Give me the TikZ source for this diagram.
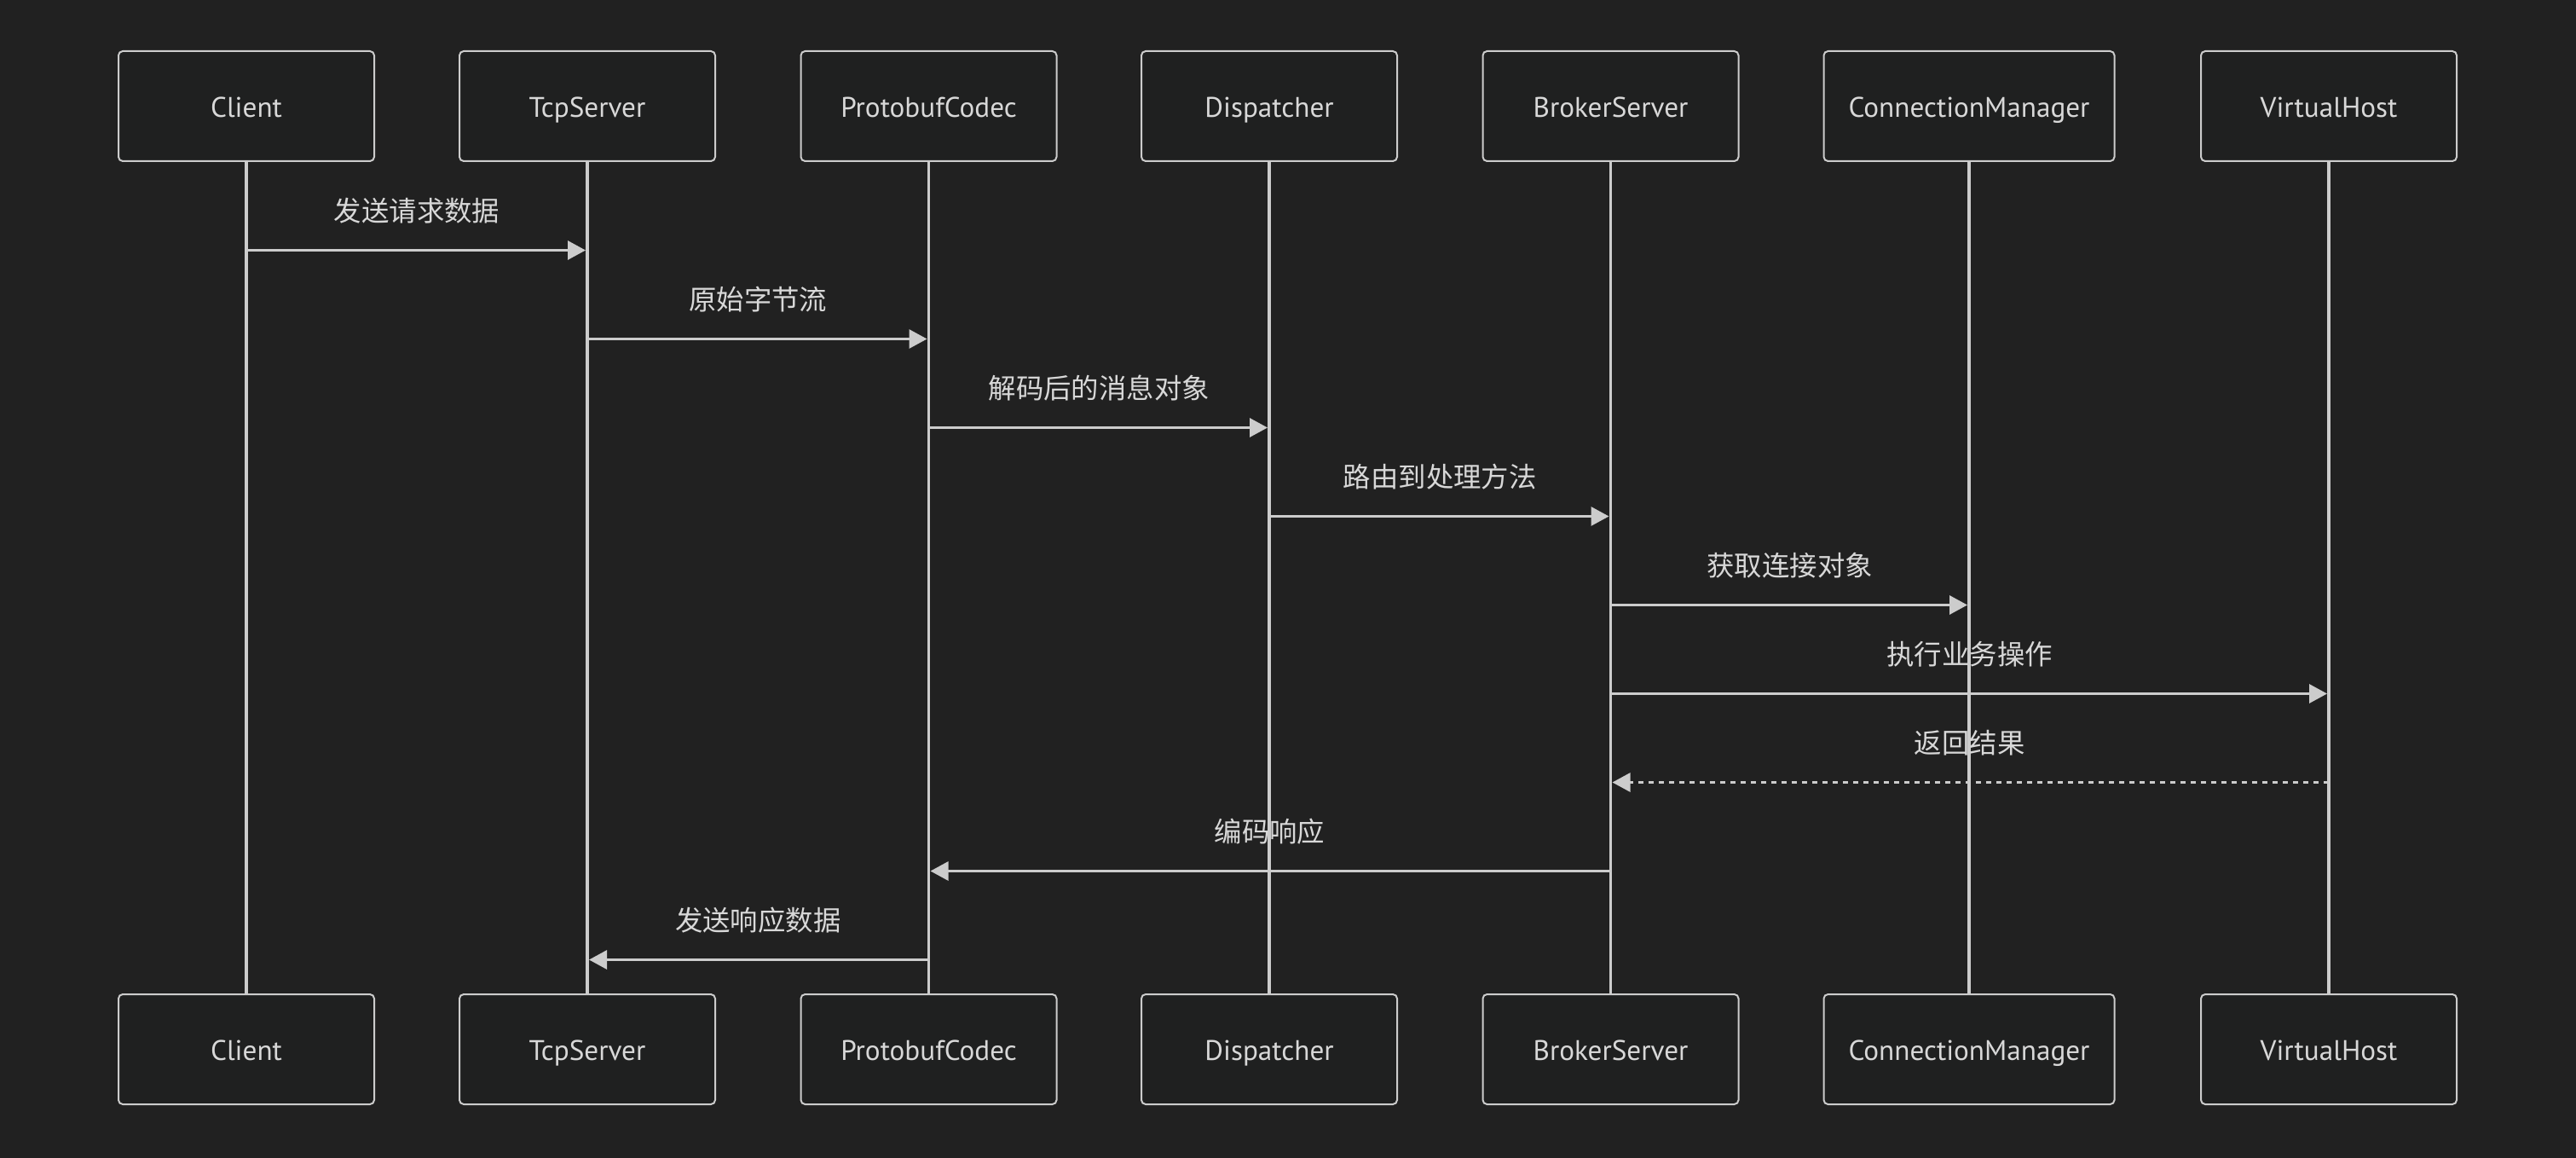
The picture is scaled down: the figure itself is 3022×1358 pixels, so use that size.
\documentclass[tikz,border=0pt]{standalone}
\usepackage{fontspec}
\setmainfont{PT Sans}
\newfontfamily\cjk{Noto Sans CJK SC}
\usetikzlibrary{arrows.meta}
\definecolor{bgc}{HTML}{212121}
\definecolor{boxc}{HTML}{1F2020}
\definecolor{ink}{HTML}{CCCCCC}
\definecolor{txt}{HTML}{D8D8D8}
\tikzset{
  actor/.style={draw=ink, line width=1pt, fill=boxc, rounded corners=2.5pt,
    minimum width=150pt, minimum height=64.5pt, inner sep=0pt,
    text height=13pt, text depth=0pt,
    text=txt, font=\fontsize{16.6}{18}\selectfont},
  wideactor/.style={actor, minimum width=170.5pt},
  lifeline/.style={draw=ink, line width=1.8pt},
  msg/.style={draw=ink, line width=1.5pt,
    -{Triangle[length=10.5pt,width=11pt]}, shorten >=1pt},
  reply/.style={msg, dash pattern=on 3pt off 3pt},
  lbl/.style={text=txt, font=\cjk\fontsize{16.2}{18}\selectfont, midway, yshift=23pt}
}
\begin{document}
\begin{tikzpicture}[x=0.5pt,y=-0.5pt]
  \fill[bgc] (0,0) rectangle (3022,1358);
  \useasboundingbox (0,0) rectangle (3022,1358);

  % participants, top row
  \node[actor] (cT) at (289,124.5) {Client};
  \node[actor] (tT) at (689,124.5) {TcpServer};
  \node[actor] (pT) at (1089.5,124.5) {ProtobufCodec};
  \node[actor] (dT) at (1489,124.5) {Dispatcher};
  \node[actor] (bT) at (1889.5,124.5) {BrokerServer};
  \node[wideactor] (mT) at (2310,124.5) {ConnectionManager};
  \node[actor] (vT) at (2732,124.5) {VirtualHost};

  % participants, bottom row
  \node[actor] (cB) at (289,1230.5) {Client};
  \node[actor] (tB) at (689,1230.5) {TcpServer};
  \node[actor] (pB) at (1089.5,1230.5) {ProtobufCodec};
  \node[actor] (dB) at (1489,1230.5) {Dispatcher};
  \node[actor] (bB) at (1889.5,1230.5) {BrokerServer};
  \node[wideactor] (mB) at (2310,1230.5) {ConnectionManager};
  \node[actor] (vB) at (2732,1230.5) {VirtualHost};

  % lifelines
  \foreach \p in {c,t,p,d,b,m,v}
    \draw[lifeline] (\p T.south) -- (\p B.north);

  % message rows
  \coordinate (r1) at (0,293.5);
  \coordinate (r2) at (0,397.5);
  \coordinate (r3) at (0,501.5);
  \coordinate (r4) at (0,605.5);
  \coordinate (r5) at (0,709.5);
  \coordinate (r6) at (0,813.5);
  \coordinate (r7) at (0,917.5);
  \coordinate (r8) at (0,1021.5);
  \coordinate (r9) at (0,1125.5);

  \draw[msg] (cT.south |- r1) -- node[lbl] {发送请求数据} (tT.south |- r1);
  \draw[msg] (tT.south |- r2) -- node[lbl] {原始字节流} (pT.south |- r2);
  \draw[msg] (pT.south |- r3) -- node[lbl] {解码后的消息对象} (dT.south |- r3);
  \draw[msg] (dT.south |- r4) -- node[lbl] {路由到处理方法} (bT.south |- r4);
  \draw[msg] (bT.south |- r5) -- node[lbl] {获取连接对象} (mT.south |- r5);
  \draw[msg] (bT.south |- r6) -- node[lbl] {执行业务操作} (vT.south |- r6);
  \draw[reply] (vT.south |- r7) -- node[lbl] {返回结果} (bT.south |- r7);
  \draw[msg] (bT.south |- r8) -- node[lbl] {编码响应} (pT.south |- r8);
  \draw[msg] (pT.south |- r9) -- node[lbl] {发送响应数据} (tT.south |- r9);
\end{tikzpicture}
\end{document}
